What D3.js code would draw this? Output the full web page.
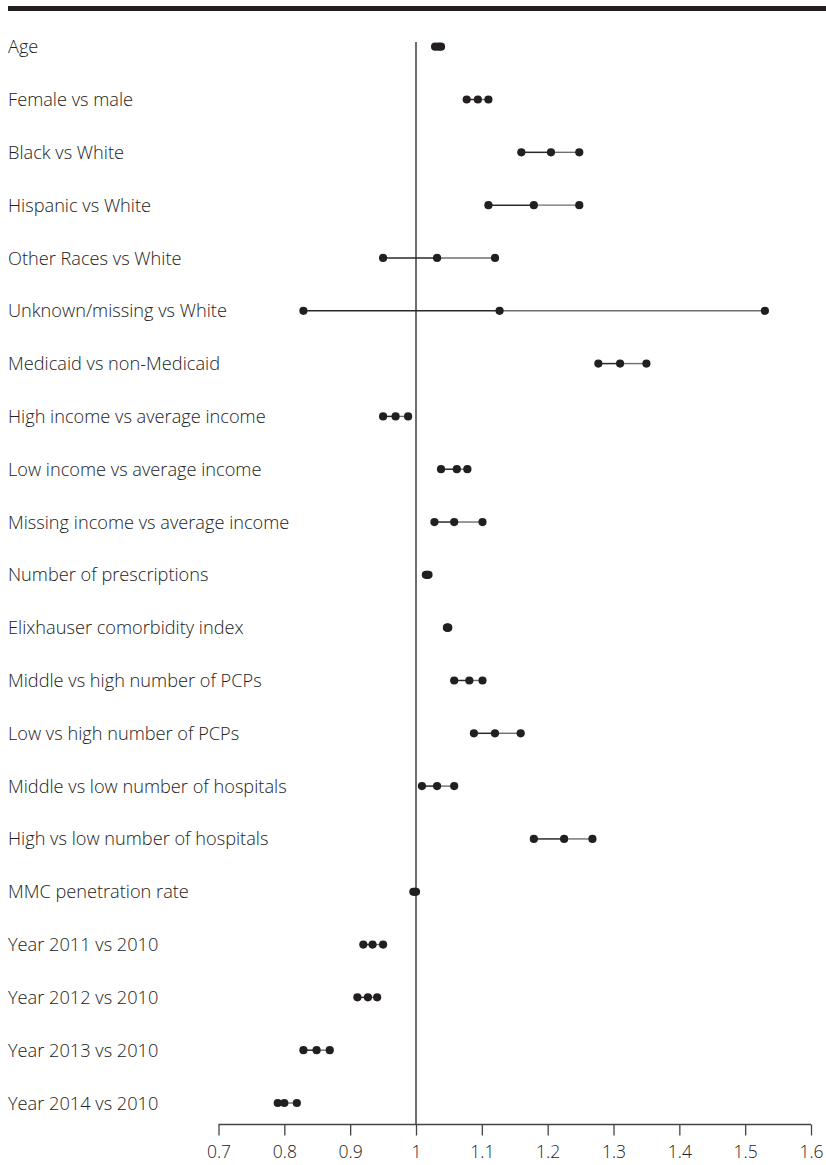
<!DOCTYPE html>
<html>
<head>
<meta charset="utf-8">
<script src="https://cdn.jsdelivr.net/npm/d3@7"></script>
<style>
  html, body { margin: 0; padding: 0; background: #fff; }
  svg { display: block; }
</style>
</head>
<body>
<div id="chart"></div>
<script>
// Covariates, top to bottom
const labels = [
  "Age",
  "Female vs male",
  "Black vs White",
  "Hispanic vs White",
  "Other Races vs White",
  "Unknown/missing vs White",
  "Medicaid vs non-Medicaid",
  "High income vs average income",
  "Low income vs average income",
  "Missing income vs average income",
  "Number of prescriptions",
  "Elixhauser comorbidity index",
  "Middle vs high number of PCPs",
  "Low vs high number of PCPs",
  "Middle vs low number of hospitals",
  "High vs low number of hospitals",
  "MMC penetration rate",
  "Year 2011 vs 2010",
  "Year 2012 vs 2010",
  "Year 2013 vs 2010",
  "Year 2014 vs 2010"
];

// Lower 95% CI limit, point estimate, upper limit
const lower = [1.029, 1.077, 1.160, 1.110, 0.950, 0.829, 1.277, 0.950, 1.038, 1.028, 1.015,
               1.047, 1.058, 1.088, 1.009, 1.179, 0.996, 0.920, 0.911, 0.829, 0.790];
const estimate = [1.034, 1.094, 1.205, 1.179, 1.032, 1.127, 1.310, 0.969, 1.062, 1.058, 1.017,
                  1.048, 1.081, 1.120, 1.032, 1.225, 0.998, 0.934, 0.927, 0.849, 0.800];
const upper = [1.038, 1.110, 1.248, 1.248, 1.120, 1.530, 1.350, 0.988, 1.078, 1.101, 1.019,
               1.049, 1.101, 1.159, 1.058, 1.268, 1.000, 0.950, 0.941, 0.869, 0.819];

const tickValues = [0.7, 0.8, 0.9, 1.0, 1.1, 1.2, 1.3, 1.4, 1.5, 1.6];
const referenceValue = 1;

const rows = labels.map((label, i) => ({
  label, lo: lower[i], est: estimate[i], hi: upper[i]
}));

const W = 826, H = 1165;
const svg = d3.select("#chart").append("svg")
  .attr("width", W).attr("height", H);

const x = d3.scaleLinear().domain([0.7, 1.6]).range([218.5, 811]);
const y = d3.scalePoint().domain(labels).range([46.7, 1103]);
const axisY = 1124.5;

const ink = "#231f20";
const font = "'Open Sans', 'Noto Sans', sans-serif";

// Heavy rule across the top
svg.append("rect")
  .attr("x", 8).attr("y", 6)
  .attr("width", W - 8).attr("height", 5)
  .attr("fill", ink);

// Row labels
svg.append("g").selectAll("text")
  .data(rows).join("text")
  .attr("x", 8)
  .attr("y", d => y(d.label))
  .attr("dy", "0.36em")
  .attr("font-family", font)
  .attr("font-size", 18.2)
  .attr("font-weight", 300)
  .attr("fill", "#222")
  .text(d => d.label);

// Reference line at ratio 1
svg.append("line")
  .attr("x1", x(referenceValue)).attr("x2", x(referenceValue))
  .attr("y1", 42).attr("y2", axisY)
  .attr("stroke", ink).attr("stroke-width", 1.3);

// Confidence intervals: lower half darker, upper half lighter
const ci = svg.append("g");
ci.selectAll("line.lo")
  .data(rows).join("line")
  .attr("class", "lo")
  .attr("x1", d => x(d.lo)).attr("x2", d => x(d.est))
  .attr("y1", d => y(d.label)).attr("y2", d => y(d.label))
  .attr("stroke", "#2a2a2a").attr("stroke-width", 1.5);
ci.selectAll("line.hi")
  .data(rows).join("line")
  .attr("class", "hi")
  .attr("x1", d => x(d.est)).attr("x2", d => x(d.hi))
  .attr("y1", d => y(d.label)).attr("y2", d => y(d.label))
  .attr("stroke", "#6e6e6e").attr("stroke-width", 1.4);

// Dots for the limits and the estimate
const dots = svg.append("g");
rows.forEach(d => {
  dots.selectAll(null)
    .data([d.lo, d.est, d.hi]).join("circle")
    .attr("cx", v => x(v))
    .attr("cy", y(d.label))
    .attr("r", 4.1)
    .attr("fill", ink);
});

// Bottom axis
const axis = svg.append("g")
  .attr("transform", `translate(0,${axisY})`)
  .call(d3.axisBottom(x)
    .tickValues(tickValues)
    .tickSize(11)
    .tickPadding(10)
    .tickFormat(d3.format("~g")));
axis.select(".domain")
  .attr("d", `M${x(0.7)},0H${x(1.6)}`)
  .attr("stroke", "#444").attr("stroke-width", 1.3);
axis.selectAll(".tick line").attr("stroke", "#444").attr("stroke-width", 1.3);
axis.selectAll(".tick text")
  .attr("font-family", font)
  .attr("font-size", 17.5)
  .attr("font-weight", 300)
  .attr("fill", "#222");
</script>
</body>
</html>
